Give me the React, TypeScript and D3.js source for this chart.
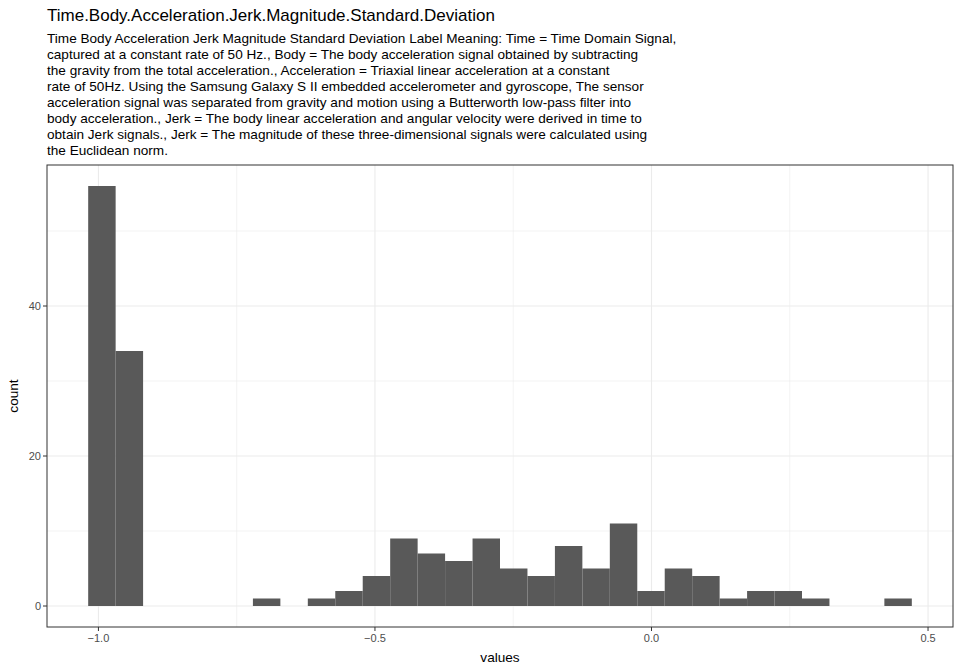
import * as d3 from "d3"

const title = "Time.Body.Acceleration.Jerk.Magnitude.Standard.Deviation"
const subtitle = [
  "Time Body Acceleration Jerk Magnitude Standard Deviation Label Meaning: Time = Time Domain Signal,",
  "captured at a constant rate of 50 Hz., Body = The body acceleration signal obtained by subtracting",
  "the gravity from the total acceleration., Acceleration = Triaxial linear acceleration at a constant",
  "rate of 50Hz. Using the Samsung Galaxy S II embedded accelerometer and gyroscope, The sensor",
  "acceleration signal was separated from gravity and motion using a Butterworth low-pass filter into",
  "body acceleration., Jerk = The body linear acceleration and angular velocity were derived in time to",
  "obtain Jerk signals., Jerk = The magnitude of these three-dimensional signals were calculated using",
  "the Euclidean norm.",
]

// histogram: first bin centre, bin width, counts
const binStart = -0.9937
const binWidth = 0.04964
const counts = [56, 34, 0, 0, 0, 0, 1, 0, 1, 2, 4, 9, 7, 6, 9, 5, 4, 8, 5, 11, 2, 5, 4, 1, 2, 2, 1, 0, 0, 1]
const xTicks = [-1.0, -0.5, 0.0, 0.5]
const xMinor = [-0.75, -0.25, 0.25]
const yTicks = [0, 20, 40]
const yMinor = [10, 30, 50]

export default function App() {
  const W = 960, H = 672
  const L = 47, R = 953, T = 165, B = 627
  const bins = counts.map((c, i) => ({
    x0: binStart + (i - 0.5) * binWidth,
    x1: binStart + (i + 0.5) * binWidth,
    c,
  }))
  const lo = bins[0].x0, hi = bins[bins.length - 1].x1
  const pad = (hi - lo) * 0.05
  const x = d3.scaleLinear().domain([lo - pad, hi + pad]).range([L, R])
  const ymax = d3.max(counts)!
  const y = d3.scaleLinear().domain([-ymax * 0.05, ymax * 1.05]).range([B, T])

  return (
    <svg width={W} height={H} style={{ position: "absolute", left: 0, top: 0 }}
      fontFamily="Liberation Sans, Arial, sans-serif">
      <rect width={W} height={H} fill="white" />
      <text x={47} y={21} fontSize={17}>{title}</text>
      {subtitle.map((s, i) => (
        <text key={i} x={47} y={43 + i * 16} fontSize={13.6}>{s}</text>
      ))}
      {xMinor.map((v) => (
        <line key={"xm" + v} x1={x(v)} x2={x(v)} y1={T} y2={B} stroke="#ebebeb" strokeWidth={0.6} />
      ))}
      {yMinor.map((v) => (
        <line key={"ym" + v} x1={L} x2={R} y1={y(v)} y2={y(v)} stroke="#ebebeb" strokeWidth={0.6} />
      ))}
      {xTicks.map((v) => (
        <line key={"x" + v} x1={x(v)} x2={x(v)} y1={T} y2={B} stroke="#ebebeb" strokeWidth={1.1} />
      ))}
      {yTicks.map((v) => (
        <line key={"y" + v} x1={L} x2={R} y1={y(v)} y2={y(v)} stroke="#ebebeb" strokeWidth={1.1} />
      ))}
      {bins.filter((b) => b.c > 0).map((b, i) => (
        <rect key={i} x={x(b.x0)} width={x(b.x1) - x(b.x0)} y={y(b.c)} height={y(0) - y(b.c)} fill="#595959" />
      ))}
      <rect x={L} y={T} width={R - L} height={B - T} fill="none" stroke="#333333" strokeWidth={1} />
      {xTicks.map((v) => (
        <g key={"xt" + v}>
          <line x1={x(v)} x2={x(v)} y1={B} y2={B + 4} stroke="#333333" />
          <text x={x(v)} y={B + 15} fontSize={11} fill="#4d4d4d" textAnchor="middle">{d3.format(".1f")(v)}</text>
        </g>
      ))}
      {yTicks.map((v) => (
        <g key={"yt" + v}>
          <line x1={L - 4} x2={L} y1={y(v)} y2={y(v)} stroke="#333333" />
          <text x={L - 6} y={y(v) + 4} fontSize={11} fill="#4d4d4d" textAnchor="end">{v}</text>
        </g>
      ))}
      <text x={(L + R) / 2} y={662} fontSize={13.6} textAnchor="middle">values</text>
      <text transform={`translate(18,${(T + B) / 2}) rotate(-90)`} fontSize={13.6} textAnchor="middle">count</text>
    </svg>
  )
}
